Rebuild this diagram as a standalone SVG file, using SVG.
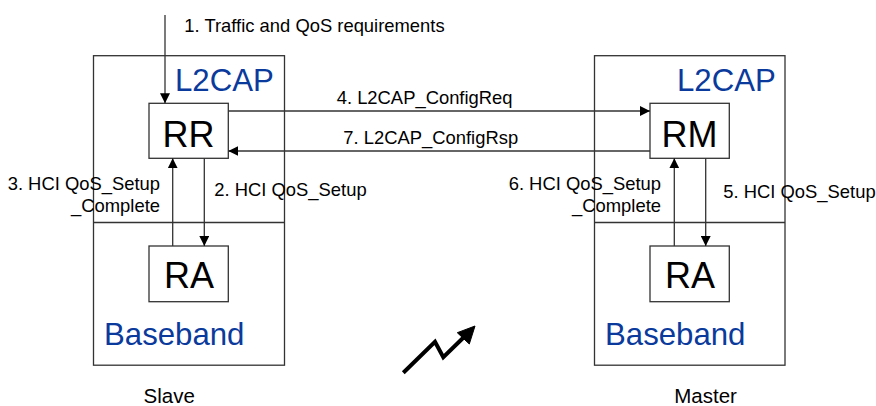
<svg xmlns="http://www.w3.org/2000/svg" width="876" height="406" viewBox="0 0 876 406">
<defs>
<style>
.box{fill:#fff;stroke:#333;stroke-width:1.3}
.inner{fill:#fff;stroke:#333;stroke-width:1.3}
.ln{stroke:#333;stroke-width:1.3;fill:none}
.lbl{font-family:"Liberation Sans",Arial,sans-serif;font-size:18.4px;fill:#000}
.layer{font-family:"Liberation Sans",Arial,sans-serif;font-size:31.2px;fill:#0a3a9c}
.ent{font-family:"Liberation Sans",Arial,sans-serif;font-size:36px;fill:#000}
.role{font-family:"Liberation Sans",Arial,sans-serif;font-size:20.5px;fill:#000}
</style>
<marker id="ah" viewBox="0 0 10 10" refX="10" refY="5" markerWidth="10" markerHeight="10" markerUnits="userSpaceOnUse" orient="auto">
<path d="M0,0 L10,5 L0,10 z" fill="#000"/>
</marker>
</defs>

<g id="slave">
<rect class="box" x="93.5" y="55.7" width="191" height="309.5"/>
<line class="ln" x1="93.5" y1="222.5" x2="284.5" y2="222.5"/>
<text class="layer" x="175" y="91">L2CAP</text>
<text class="layer" x="104" y="345">Baseband</text>
<text class="role" x="143.5" y="403">Slave</text>
</g>
<g id="master">
<rect class="box" x="594.5" y="55.7" width="190.5" height="309.5"/>
<line class="ln" x1="594.5" y1="222.5" x2="785" y2="222.5"/>
<text class="layer" x="677" y="91">L2CAP</text>
<text class="layer" x="605" y="345">Baseband</text>
<text class="role" x="674.3" y="403">Master</text>
</g>
<g id="RR">
<rect class="inner" x="149" y="103.3" width="79.3" height="55"/>
<text class="ent" x="188.6" y="146.7" text-anchor="middle">RR</text>
</g>
<g id="RA-slave">
<rect class="inner" x="149" y="246" width="79.3" height="55.7"/>
<text class="ent" x="189" y="288.3" text-anchor="middle">RA</text>
</g>
<g id="RM">
<rect class="inner" x="650" y="103.3" width="79.3" height="55"/>
<text class="ent" x="689.6" y="146.7" text-anchor="middle">RM</text>
</g>
<g id="RA-master">
<rect class="inner" x="650" y="246" width="79.3" height="55.7"/>
<text class="ent" x="690" y="288.3" text-anchor="middle">RA</text>
</g>

<g id="connectors">
<line class="ln" x1="165" y1="15" x2="165" y2="103.3" marker-end="url(#ah)"/>
<line class="ln" x1="228.3" y1="111" x2="650" y2="111" marker-end="url(#ah)"/>
<line class="ln" x1="650" y1="151" x2="228.3" y2="151" marker-end="url(#ah)"/>
<line class="ln" x1="172.7" y1="246" x2="172.7" y2="158.3" marker-end="url(#ah)"/>
<line class="ln" x1="204.3" y1="158.3" x2="204.3" y2="246" marker-end="url(#ah)"/>
<line class="ln" x1="674.3" y1="246" x2="674.3" y2="158.3" marker-end="url(#ah)"/>
<line class="ln" x1="705.7" y1="158.3" x2="705.7" y2="246" marker-end="url(#ah)"/>
<text class="lbl" x="184.3" y="31.7">1. Traffic and QoS requirements</text>
<text class="lbl" x="336.7" y="104">4. L2CAP_ConfigReq</text>
<text class="lbl" x="343.3" y="144">7. L2CAP_ConfigRsp</text>
<text class="lbl" x="160" y="190" text-anchor="end">3. HCI QoS_Setup</text>
<text class="lbl" x="160" y="211.7" text-anchor="end">_Complete</text>
<text class="lbl" x="214.3" y="196">2. HCI QoS_Setup</text>
<text class="lbl" x="661" y="190" text-anchor="end">6. HCI QoS_Setup</text>
<text class="lbl" x="661" y="211.7" text-anchor="end">_Complete</text>
<text class="lbl" x="723.3" y="198">5. HCI QoS_Setup</text>
</g>

<g id="radio-link">
<polyline points="403.3,372.7 435,341.7 443.3,357.3 463,338" fill="none" stroke="#000" stroke-width="4" stroke-linejoin="miter"/>
<path d="M475,326 L469.3,344 L457.3,332.7 z" fill="#000" stroke="#000" stroke-width="1"/>
</g>
</svg>
